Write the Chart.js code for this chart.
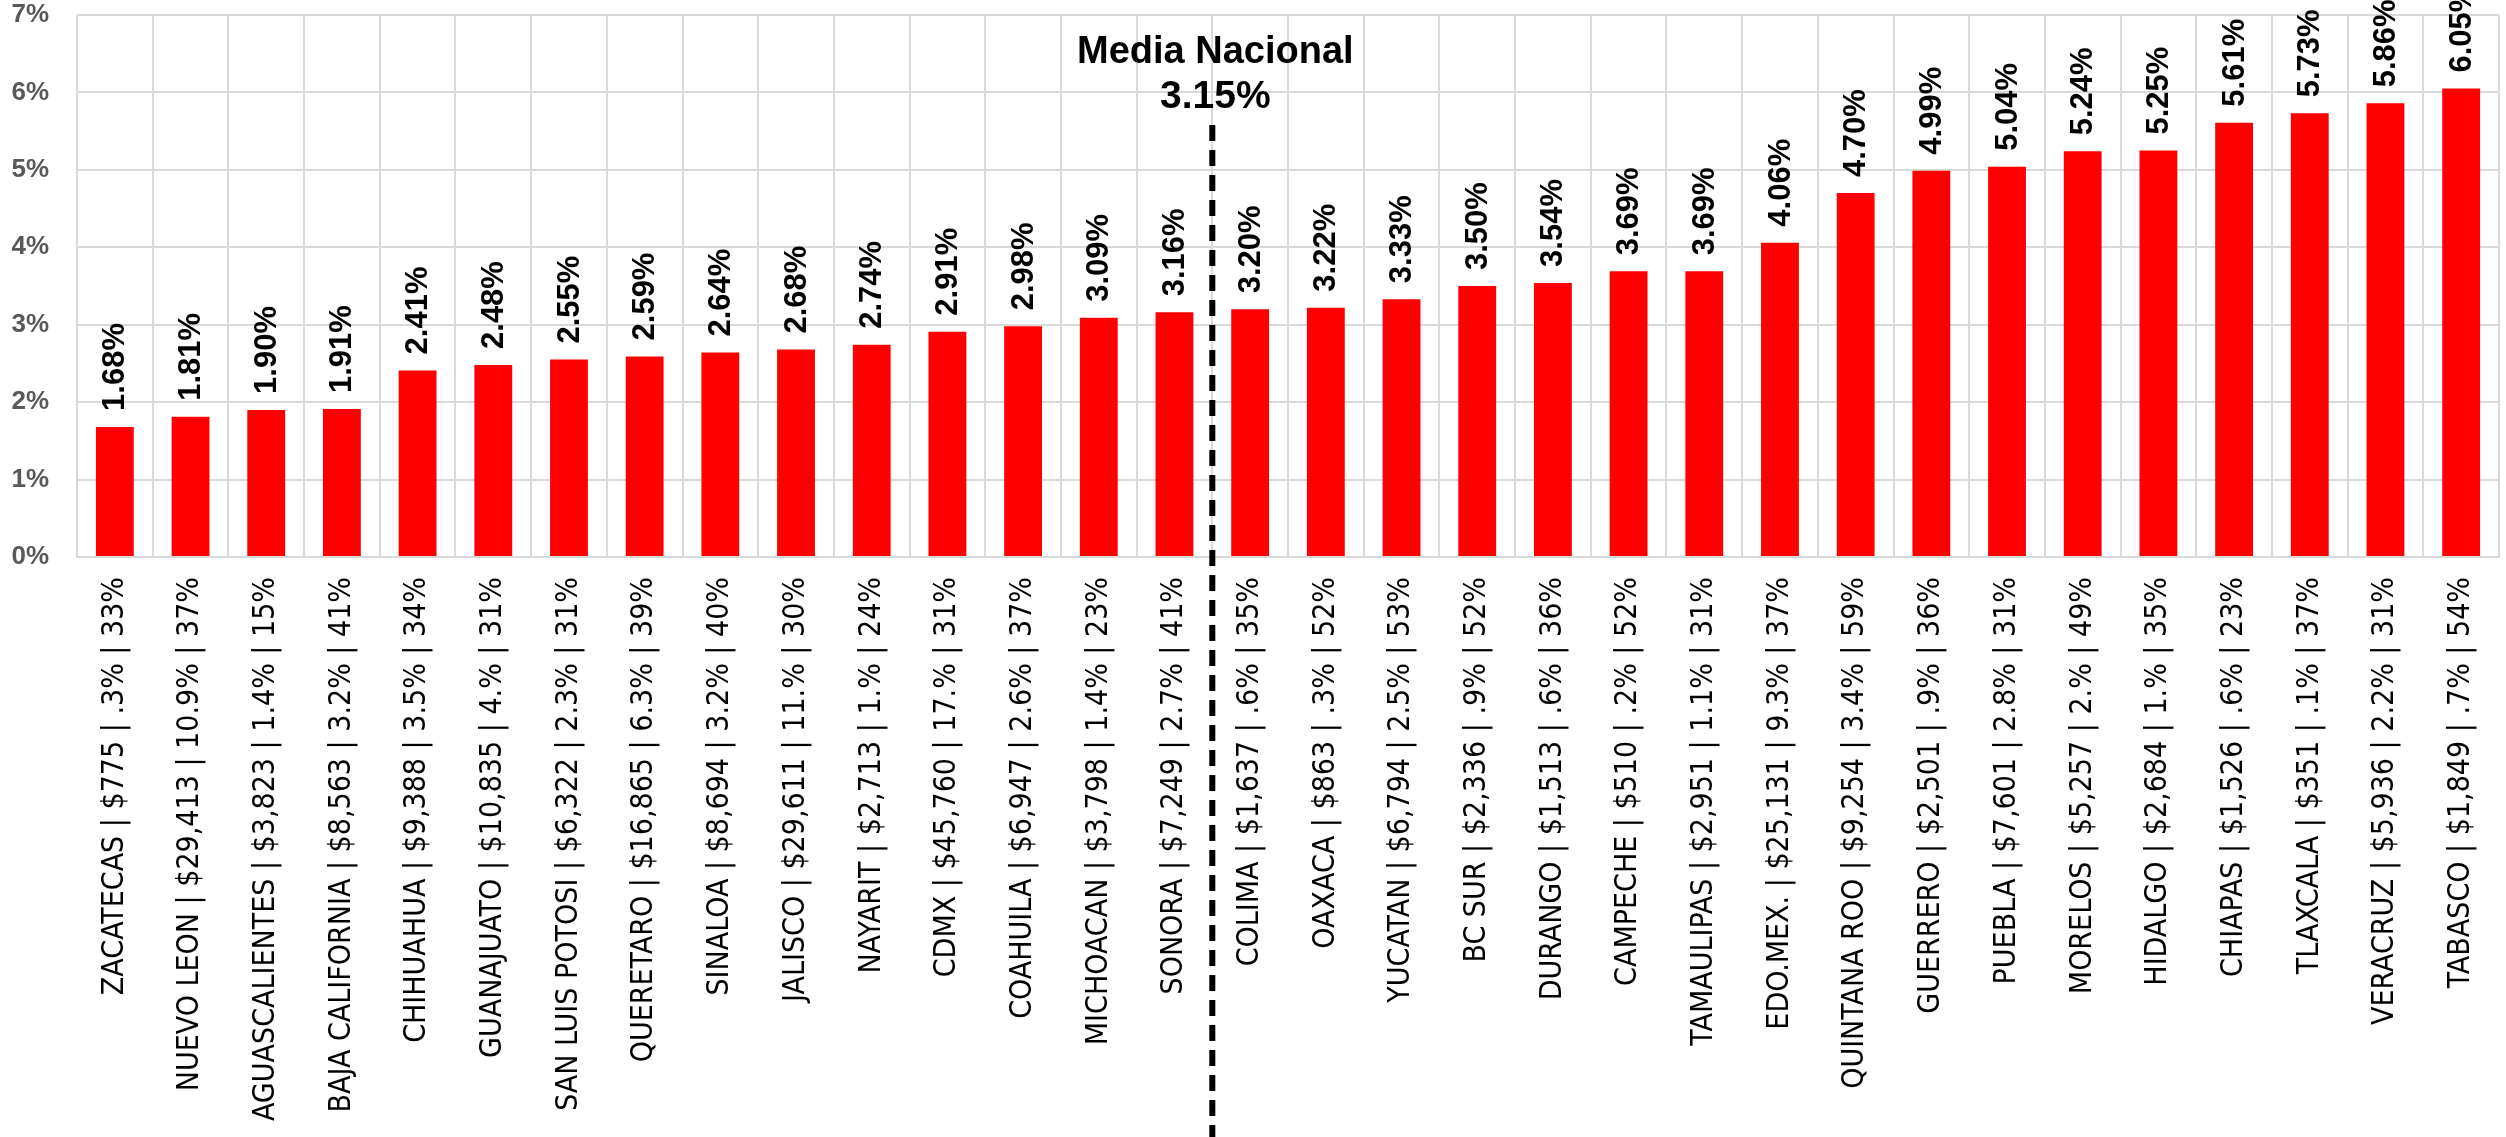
<!DOCTYPE html>
<html>
<head>
<meta charset="utf-8">
<script src="https://cdn.jsdelivr.net/npm/chart.js@4.4.0/dist/chart.umd.min.js"></script>
<style>
  body { margin: 0; background: #fff; }
  #wrap { width: 2506px; height: 1137px; }
</style>
</head>
<body>
<div id="wrap"><canvas id="chart"></canvas></div>
<script>
const states = ['ZACATECAS', 'NUEVO LEON', 'AGUASCALIENTES', 'BAJA CALIFORNIA', 'CHIHUAHUA', 'GUANAJUATO',
  'SAN LUIS POTOSI', 'QUERETARO', 'SINALOA', 'JALISCO', 'NAYARIT', 'CDMX', 'COAHUILA', 'MICHOACAN', 'SONORA',
  'COLIMA', 'OAXACA', 'YUCATAN', 'BC SUR', 'DURANGO', 'CAMPECHE', 'TAMAULIPAS', 'EDO.MEX.', 'QUINTANA ROO',
  'GUERRERO', 'PUEBLA', 'MORELOS', 'HIDALGO', 'CHIAPAS', 'TLAXCALA', 'VERACRUZ', 'TABASCO'];
const amounts = ['$775', '$29,413', '$3,823', '$8,563', '$9,388', '$10,835', '$6,322', '$16,865', '$8,694',
  '$29,611', '$2,713', '$45,760', '$6,947', '$3,798', '$7,249', '$1,637', '$863', '$6,794', '$2,336', '$1,513',
  '$510', '$2,951', '$25,131', '$9,254', '$2,501', '$7,601', '$5,257', '$2,684', '$1,526', '$351', '$5,936', '$1,849'];
const shares = ['.3%', '10.9%', '1.4%', '3.2%', '3.5%', '4.%', '2.3%', '6.3%', '3.2%', '11.%', '1.%', '17.%',
  '2.6%', '1.4%', '2.7%', '.6%', '.3%', '2.5%', '.9%', '.6%', '.2%', '1.1%', '9.3%', '3.4%', '.9%', '2.8%',
  '2.%', '1.%', '.6%', '.1%', '2.2%', '.7%'];
const others = ['33%', '37%', '15%', '41%', '34%', '31%', '31%', '39%', '40%', '30%', '24%', '31%', '37%', '23%',
  '41%', '35%', '52%', '53%', '52%', '36%', '52%', '31%', '37%', '59%', '36%', '31%', '49%', '35%', '23%', '37%',
  '31%', '54%'];
const rates = [1.68, 1.81, 1.90, 1.91, 2.41, 2.48, 2.55, 2.59, 2.64, 2.68, 2.74, 2.91, 2.98, 3.09, 3.16,
  3.20, 3.22, 3.33, 3.50, 3.54, 3.69, 3.69, 4.06, 4.70, 4.99, 5.04, 5.24, 5.25, 5.61, 5.73, 5.86, 6.05];
const yTicks = [0, 1, 2, 3, 4, 5, 6, 7];
const mediaNacional = 3.15;
const mediaTitle = 'Media Nacional';
const mediaAfter = 'SONORA';

const labels = states.map((s, i) => s + ' | ' + amounts[i] + ' | ' + shares[i] + ' | ' + others[i]);

// etiquetas de valor encima de cada barra, giradas
const valueLabels = {
  id: 'valueLabels',
  afterDatasetsDraw(chart) {
    const ctx = chart.ctx;
    const meta = chart.getDatasetMeta(0);
    ctx.save();
    ctx.fillStyle = '#000';
    ctx.font = 'bold 31px "Liberation Sans", Arial, sans-serif';
    ctx.textAlign = 'left';
    ctx.textBaseline = 'middle';
    meta.data.forEach((bar, i) => {
      ctx.save();
      ctx.translate(bar.x + 1, bar.y - 16);
      ctx.rotate(-Math.PI / 2);
      ctx.fillText(rates[i].toFixed(2) + '%', 0, 0);
      ctx.restore();
    });
    ctx.restore();
  }
};

// linea punteada de la media nacional
const mediaLine = {
  id: 'mediaLine',
  afterDraw(chart) {
    const ctx = chart.ctx;
    const xs = chart.scales.x;
    const ys = chart.scales.y;
    const idx = states.indexOf(mediaAfter);
    const x = (xs.getPixelForValue(idx) + xs.getPixelForValue(idx + 1)) / 2;
    const top = ys.getPixelForValue(5.58);
    ctx.save();
    ctx.strokeStyle = '#000';
    ctx.lineWidth = 6;
    ctx.setLineDash([16, 9]);
    ctx.beginPath();
    ctx.moveTo(x, top);
    ctx.lineTo(x, chart.height);
    ctx.stroke();
    ctx.setLineDash([]);
    ctx.fillStyle = '#000';
    ctx.textAlign = 'center';
    ctx.textBaseline = 'alphabetic';
    ctx.font = 'bold 38px "Liberation Sans", Arial, sans-serif';
    ctx.fillText(mediaTitle, x + 3, top - 62);
    ctx.font = 'bold 39px "Liberation Sans", Arial, sans-serif';
    ctx.fillText(mediaNacional.toFixed(2) + '%', x + 3, top - 17);
    ctx.restore();
  }
};

new Chart(document.getElementById('chart'), {
  type: 'bar',
  data: {
    labels: labels,
    datasets: [{
      data: rates,
      backgroundColor: '#ff0000',
      barPercentage: 0.5,
      categoryPercentage: 1
    }]
  },
  options: {
    responsive: true,
    maintainAspectRatio: false,
    animation: false,
    layout: { padding: { top: 15, right: 7, left: 0, bottom: 0 } },
    plugins: { legend: { display: false }, tooltip: { enabled: false } },
    scales: {
      x: {
        grid: { color: '#d9d9d9', lineWidth: 2, drawTicks: false, offset: true },
        border: { color: '#d9d9d9', width: 2 },
        ticks: {
          autoSkip: false,
          maxRotation: 90,
          minRotation: 90,
          padding: 20,
          color: '#000',
          font: { family: '"Liberation Sans Narrow", "DejaVu Sans Condensed", sans-serif', size: 30 }
        },
        afterFit(scale) {
          scale.height = 580;
          scale.paddingLeft = 0;
          scale.paddingRight = 0;
        }
      },
      y: {
        min: 0,
        max: 7,
        afterBuildTicks(scale) { scale.ticks = yTicks.map(v => ({ value: v })); },
        grid: { color: '#d9d9d9', lineWidth: 2, drawTicks: false },
        border: { display: false },
        ticks: {
          padding: 28,
          color: '#595959',
          font: { family: '"Liberation Sans", Arial, sans-serif', size: 26, weight: 'bold' },
          callback: v => v + '%'
        },
        afterFit(scale) {
          scale.width = 77;
          scale.paddingTop = 0;
          scale.paddingBottom = 0;
        }
      }
    }
  },
  plugins: [valueLabels, mediaLine]
});
</script>
</body>
</html>
